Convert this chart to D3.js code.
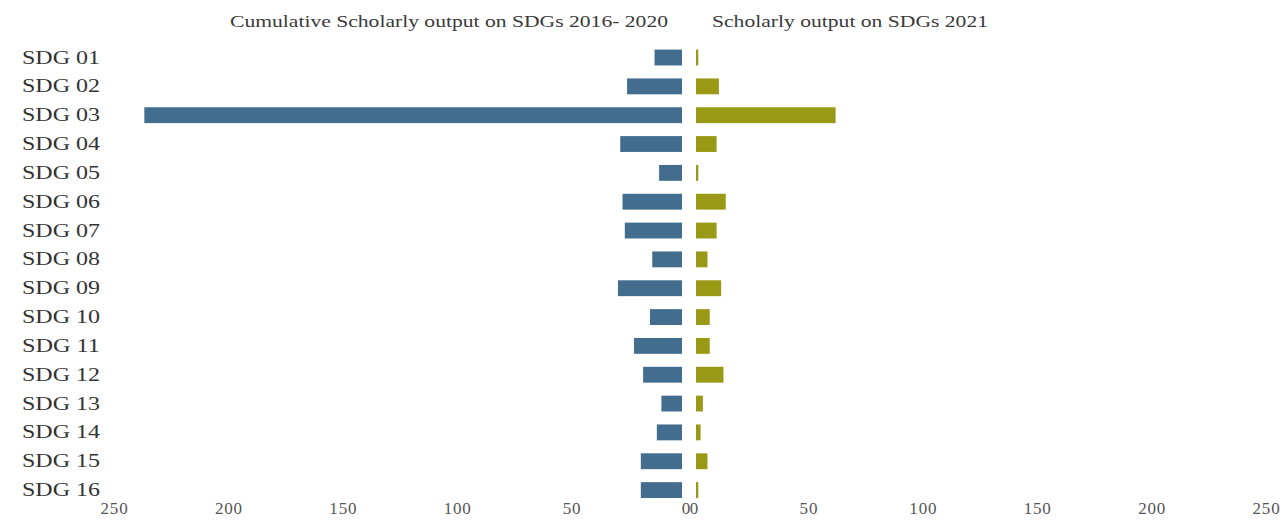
<!DOCTYPE html>
<html>
<head>
<meta charset="utf-8">
<script src="https://cdn.jsdelivr.net/npm/d3@7"></script>
<style>
  html, body { margin: 0; padding: 0; background: #fff; }
  svg { display: block; }
</style>
</head>
<body>
<svg id="chart" width="1284" height="523"></svg>
<script>
const categories = ["SDG 01","SDG 02","SDG 03","SDG 04","SDG 05","SDG 06","SDG 07","SDG 08",
                    "SDG 09","SDG 10","SDG 11","SDG 12","SDG 13","SDG 14","SDG 15","SDG 16"];
const cumulative2016_2020 = [12, 24, 235, 27, 10, 26, 25, 13, 28, 14, 21, 17, 9, 11, 18, 18];
const output2021 = [1, 10, 61, 9, 1, 13, 9, 5, 11, 6, 6, 12, 3, 2, 5, 1];
const leftTicks = [250, 200, 150, 100, 50, 0];
const rightTicks = [0, 50, 100, 150, 200, 250];
const titleLeft = "Cumulative Scholarly output on SDGs 2016- 2020";
const titleRight = "Scholarly output on SDGs 2021";

const svg = d3.select("#chart");
const blue = "#436d8e";
const olive = "#9a9915";
const serif = "'Liberation Serif', 'Times New Roman', serif";

const y = d3.scaleBand().domain(categories).range([36.6, 511]).padding(0.45);
const xL = d3.scaleLinear().domain([250, 0]).range([114, 686]);
const xR = d3.scaleLinear().domain([0, 250]).range([694, 1266]);

// titles
svg.append("text").attr("x", 230).attr("y", 27)
  .attr("font-family", serif).attr("font-size", 17).attr("fill", "#3a3a3a")
  .attr("textLength", 438).attr("lengthAdjust", "spacingAndGlyphs")
  .text(titleLeft);
svg.append("text").attr("x", 712).attr("y", 27)
  .attr("font-family", serif).attr("font-size", 17).attr("fill", "#3a3a3a")
  .attr("textLength", 276).attr("lengthAdjust", "spacingAndGlyphs")
  .text(titleRight);

// left bars
svg.append("g").selectAll("rect").data(categories).join("rect")
  .attr("x", (d, i) => xL(cumulative2016_2020[i]) - 4)
  .attr("y", d => y(d))
  .attr("width", (d, i) => xL(0) - xL(cumulative2016_2020[i]))
  .attr("height", y.bandwidth())
  .attr("fill", blue);

// right bars
svg.append("g").selectAll("rect").data(categories).join("rect")
  .attr("x", xR(0) + 2)
  .attr("y", d => y(d))
  .attr("width", (d, i) => Math.max(1.5, xR(output2021[i]) - xR(0)))
  .attr("height", y.bandwidth())
  .attr("fill", olive);

// category labels
svg.append("g").selectAll("text").data(categories).join("text")
  .attr("x", 22)
  .attr("y", d => y(d) + y.bandwidth() / 2 + 6)
  .attr("font-family", serif).attr("font-size", 18).attr("fill", "#333")
  .attr("textLength", 78).attr("lengthAdjust", "spacingAndGlyphs")
  .text(d => d);

// axes
const axL = svg.append("g").attr("transform", "translate(0,502)")
  .call(d3.axisBottom(xL).tickValues(leftTicks).tickSize(0).tickPadding(0).tickFormat(d3.format("d")));
const axR = svg.append("g").attr("transform", "translate(0,502)")
  .call(d3.axisBottom(xR).tickValues(rightTicks).tickSize(0).tickPadding(0).tickFormat(d3.format("d")));
[axL, axR].forEach(ax => {
  ax.select(".domain").remove();
  ax.selectAll(".tick text").attr("font-size", 17).attr("fill", "#555")
    .attr("letter-spacing", 0.8).attr("font-family", serif);
});
</script>
</body>
</html>
